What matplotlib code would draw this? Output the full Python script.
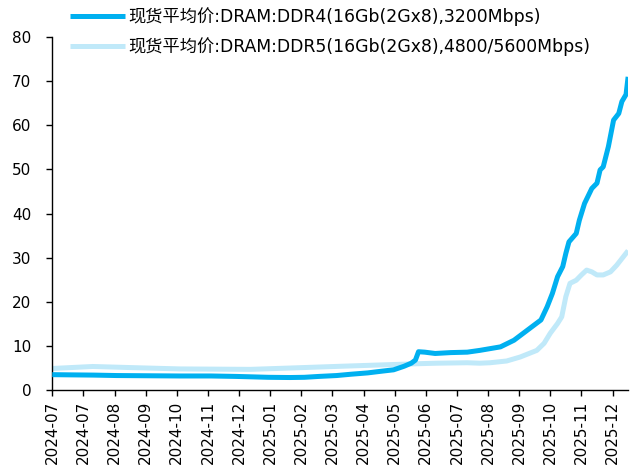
import matplotlib
matplotlib.use('Agg')
import matplotlib.pyplot as plt
import matplotlib.dates as mdates
import pandas as pd

plt.rcParams['font.family'] = ['DejaVu Sans', 'Noto Sans CJK SC']
plt.rcParams['font.size'] = 11

ddr4_label = '现货平均价:DRAM:DDR4(16Gb(2Gx8),3200Mbps)'
ddr5_label = '现货平均价:DRAM:DDR5(16Gb(2Gx8),4800/5600Mbps)'

ddr4_dates = ['2024-07-01', '2024-07-20', '2024-08-10', '2024-09-01', '2024-10-01',
              '2024-11-01', '2024-12-01', '2024-12-25', '2025-01-10', '2025-01-25',
              '2025-02-15', '2025-03-01', '2025-03-15', '2025-04-01', '2025-04-15',
              '2025-05-01', '2025-05-15', '2025-05-26', '2025-06-05', '2025-06-12',
              '2025-06-16', '2025-06-19', '2025-06-25', '2025-07-05', '2025-07-20',
              '2025-08-05', '2025-08-17', '2025-09-06', '2025-09-19', '2025-10-02',
              '2025-10-15', '2025-10-21', '2025-10-26', '2025-10-31', '2025-11-05',
              '2025-11-08', '2025-11-11', '2025-11-18', '2025-11-21', '2025-11-26',
              '2025-12-03', '2025-12-08', '2025-12-11', '2025-12-14', '2025-12-19',
              '2025-12-24', '2025-12-29', '2026-01-01', '2026-01-05', '2026-01-07']
ddr4_values = [3.5, 3.45, 3.4, 3.3, 3.25,
               3.2, 3.2, 3.1, 3.0, 2.9,
               2.85, 2.9, 3.1, 3.3, 3.6,
               3.9, 4.3, 4.6, 5.4, 6.1,
               6.8, 8.7, 8.6, 8.3, 8.5,
               8.6, 9.0, 9.8, 11.3, 13.6,
               15.9, 18.9, 21.9, 25.7, 28.0,
               31.0, 33.6, 35.5, 38.5, 42.3,
               45.7, 46.9, 49.9, 50.6, 55.2,
               61.2, 62.7, 65.4, 67.0, 71.0]

ddr5_dates = ['2024-07-01', '2024-08-09', '2024-09-15', '2024-11-01', '2025-01-08',
              '2025-02-15', '2025-04-05', '2025-05-26', '2025-06-21', '2025-07-07',
              '2025-08-05', '2025-08-17', '2025-08-27', '2025-09-12', '2025-09-25',
              '2025-10-11', '2025-10-18', '2025-10-24', '2025-10-31', '2025-11-04',
              '2025-11-08', '2025-11-12', '2025-11-18', '2025-11-23', '2025-11-28',
              '2025-12-03', '2025-12-08', '2025-12-14', '2025-12-21', '2025-12-27',
              '2026-01-01', '2026-01-07']
ddr5_values = [4.9, 5.35, 5.1, 4.8, 4.7,
               5.0, 5.4, 5.8, 6.0, 6.1,
               6.2, 6.1, 6.2, 6.6, 7.5,
               9.0, 10.6, 12.9, 15.1, 16.6,
               21.2, 24.2, 24.9, 26.1, 27.2,
               26.8, 26.1, 26.1, 26.8, 28.3,
               29.8, 31.6]

x4 = pd.to_datetime(ddr4_dates)
x5 = pd.to_datetime(ddr5_dates)

fig = plt.figure(figsize=(6.3, 4.7), dpi=100)
ax = fig.add_axes([0.083, 0.170, 0.914, 0.751])

ax.plot(x4, ddr4_values, color='#00B0F0', lw=3.6, label=ddr4_label,
        solid_capstyle='butt', zorder=3)
ax.plot(x5, ddr5_values, color='#C0E9F9', lw=3.6, label=ddr5_label,
        solid_capstyle='butt', zorder=2)

ax.set_xlim(x4[0], x4[-1])
ax.set_ylim(0, 80)
ax.set_yticks(range(0, 81, 10))

# date axis with a 30 day major unit, as in the source chart
ticks = pd.date_range(x4[0], x4[-1], freq='30D')
ax.set_xticks(ticks)
ax.xaxis.set_major_formatter(mdates.DateFormatter('%Y-%m'))
plt.setp(ax.get_xticklabels(), rotation=90)

for s in ['top', 'right']:
    ax.spines[s].set_visible(False)
for s in ['left', 'bottom']:
    ax.spines[s].set_linewidth(1.0)
ax.tick_params(direction='out', length=4, width=1.0, labelsize=11)
ax.tick_params(axis='y', pad=11)

ax.legend(loc='upper left', bbox_to_anchor=(0.111, 0.985), bbox_transform=fig.transFigure,
          frameon=False, handlelength=3.2, handletextpad=0.2, labelspacing=0.66,
          borderpad=0, borderaxespad=0, fontsize=12.4)

fig.savefig('out.png', dpi=100)
